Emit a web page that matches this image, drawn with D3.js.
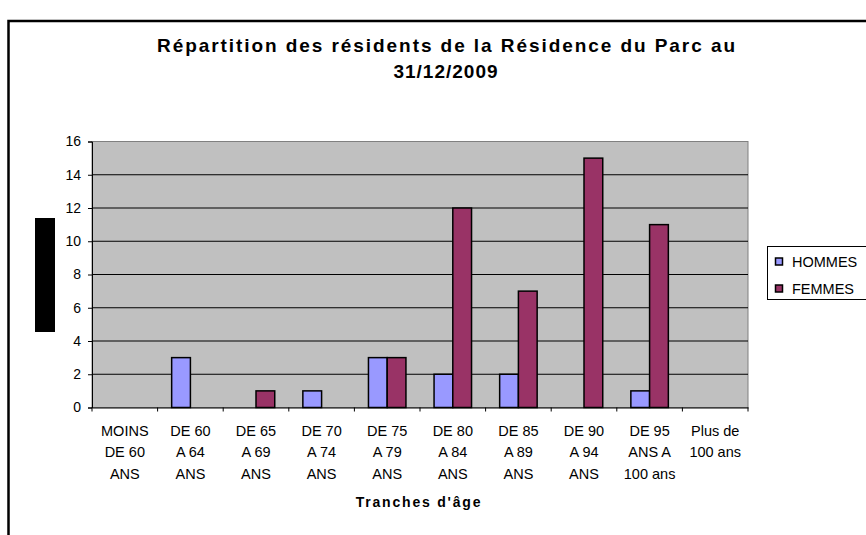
<!DOCTYPE html>
<html>
<head>
<meta charset="utf-8">
<script src="https://cdn.jsdelivr.net/npm/d3@7"></script>
<style>
  body { margin: 0; background: #fff; }
  svg text { font-family: 'Liberation Sans', Arial, sans-serif; fill: #000; }
  .title { font-size: 19px; font-weight: bold; }
  .ytick text { font-size: 14px; }
  .cat { font-size: 14.5px; }
  .label { font-size: 14px; font-weight: bold; letter-spacing: 1.8px; }
  .legend text { font-size: 14.5px; }
</style>
</head>
<body>
<svg width="866" height="535"></svg>
<script>
const categories = [
  ['MOINS', 'DE 60', 'ANS'],
  ['DE 60', 'A 64', 'ANS'],
  ['DE 65', 'A 69', 'ANS'],
  ['DE 70', 'A 74', 'ANS'],
  ['DE 75', 'A 79', 'ANS'],
  ['DE 80', 'A 84', 'ANS'],
  ['DE 85', 'A 89', 'ANS'],
  ['DE 90', 'A 94', 'ANS'],
  ['DE 95', 'ANS A', '100 ans'],
  ['Plus de', '100 ans']
];
const hommes = [0, 3, 0, 1, 3, 2, 2, 0, 1, 0];
const femmes = [0, 0, 1, 0, 3, 12, 7, 15, 11, 0];
const seriesNames = ['HOMMES', 'FEMMES'];
const colors = ['#9999FF', '#993366'];
const yTicks = [0, 2, 4, 6, 8, 10, 12, 14, 16];

const svg = d3.select('svg');

// outer frame
svg.append('rect')
  .attr('x', 8.5).attr('y', 21)
  .attr('width', 880).attr('height', 540)
  .attr('fill', 'none')
  .attr('stroke', '#000')
  .attr('stroke-width', 2.5);

const plotLeft = 92, plotTop = 141.5, width = 656, height = 266;

const chart = svg.append('g')
  .attr('transform', `translate(${plotLeft}, ${plotTop})`);

const xScale = d3.scaleBand()
  .domain(d3.range(categories.length))
  .range([0, width]);

const yScale = d3.scaleLinear()
  .domain([0, 16])
  .range([height, 0]);

const bw = xScale.bandwidth() / 3.5;
const inner = d3.scaleBand()
  .domain([0, 1])
  .range([bw * 0.75, bw * 2.75]);

chart.append('rect')
  .attr('width', width).attr('height', height)
  .attr('fill', '#C0C0C0')
  .attr('stroke', '#808080');

// grid lines
chart.append('g')
  .selectAll('line')
  .data(yTicks.slice(1, -1))
  .enter()
  .append('line')
  .attr('x1', 0).attr('x2', width)
  .attr('y1', d => yScale(d)).attr('y2', d => yScale(d))
  .attr('stroke', '#000');

const yAxis = chart.append('g')
  .attr('class', 'ytick')
  .call(d3.axisLeft(yScale).tickValues(yTicks).tickSize(4).tickPadding(7));
yAxis.select('.domain').attr('stroke', '#000');
yAxis.attr('font-size', null).attr('font-family', null);

const xAxis = chart.append('g')
  .attr('transform', `translate(0, ${height})`)
  .call(d3.axisBottom(xScale).tickSize(0).tickFormat(''));
xAxis.select('.domain').attr('stroke', '#000');

// category separators
chart.append('g')
  .selectAll('line')
  .data(d3.range(categories.length + 1))
  .enter()
  .append('line')
  .attr('x1', d => d * xScale.step())
  .attr('x2', d => d * xScale.step())
  .attr('y1', height).attr('y2', height + 4)
  .attr('stroke', '#000');

const series = [hommes, femmes];
series.forEach((vals, s) => {
  chart.append('g')
    .selectAll('rect')
    .data(vals.map((v, i) => ({ i, v })).filter(d => d.v > 0))
    .enter()
    .append('rect')
    .attr('x', d => xScale(d.i) + inner(s))
    .attr('y', d => yScale(d.v))
    .attr('width', inner.bandwidth())
    .attr('height', d => height - yScale(d.v))
    .attr('fill', colors[s])
    .attr('stroke', '#000')
    .attr('stroke-width', 1.5);
});

// category labels
const catLabels = chart.append('g');
categories.forEach((lines, i) => {
  const t = catLabels.append('text')
    .attr('class', 'cat')
    .attr('text-anchor', 'middle')
    .attr('x', xScale(i) + xScale.bandwidth() / 2)
    .attr('y', 435.5 - plotTop);
  lines.forEach((l, k) => {
    t.append('tspan')
      .attr('x', xScale(i) + xScale.bandwidth() / 2)
      .attr('dy', k === 0 ? 0 : 21.7)
      .text(l);
  });
});

svg.append('text')
  .attr('class', 'label')
  .attr('x', 419)
  .attr('y', 507)
  .attr('text-anchor', 'middle')
  .text("Tranches d'âge");

svg.append('text')
  .attr('class', 'title')
  .attr('x', 446).attr('y', 52)
  .attr('text-anchor', 'middle')
  .attr('textLength', 578)
  .attr('lengthAdjust', 'spacing')
  .text('Répartition des résidents de la Résidence du Parc au');

svg.append('text')
  .attr('class', 'title')
  .attr('x', 446).attr('y', 78)
  .attr('text-anchor', 'middle')
  .style('letter-spacing', '1px')
  .text('31/12/2009');

// y axis title block
svg.append('rect')
  .attr('x', 35).attr('y', 218)
  .attr('width', 20).attr('height', 114)
  .attr('fill', '#000');

// legend
const legend = svg.append('g').attr('class', 'legend');
legend.append('rect')
  .attr('x', 767.5).attr('y', 246.5)
  .attr('width', 120).attr('height', 53)
  .attr('fill', '#fff')
  .attr('stroke', '#000');
seriesNames.forEach((name, s) => {
  const cy = 261.5 + s * 27;
  legend.append('rect')
    .attr('x', 775.5).attr('y', cy - 3.5)
    .attr('width', 7).attr('height', 7)
    .attr('fill', colors[s])
    .attr('stroke', '#000')
    .attr('stroke-width', 1.5);
  legend.append('text')
    .attr('x', 792).attr('y', cy + 5)
    .text(name);
});
</script>
</body>
</html>
